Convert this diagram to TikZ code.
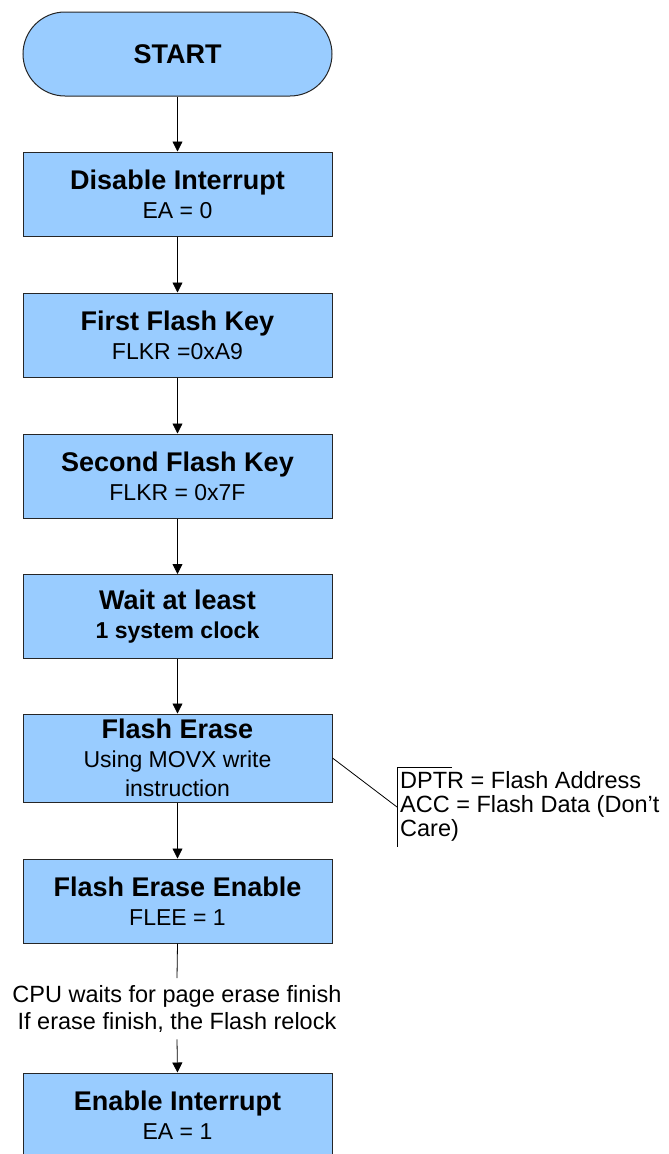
\documentclass[tikz,border=0pt]{standalone}
\usepackage{fontspec}
\setmainfont{Liberation Sans}
\usetikzlibrary{arrows.meta,shapes.misc}
\definecolor{boxblue}{RGB}{153,204,255}
\newcommand{\bt}{\fontsize{27}{29}\selectfont\bfseries}
\begin{document}
\begin{tikzpicture}[x=1pt,y=-1pt,
  box/.style={draw=black!85, line width=1pt, fill=boxblue, minimum width=309pt,
    minimum height=84pt, align=center, inner sep=0pt, font=\fontsize{23}{29}\selectfont},
  term/.style={box, rounded rectangle},
  conn/.style={line width=0.8pt, -{Triangle[width=10pt,length=10pt]}},
  plain/.style={line width=0.8pt},
  note/.style={align=left, inner sep=0pt, font=\fontsize{23.5}{24}\selectfont},
  waittext/.style={align=center, inner xsep=0pt, inner ysep=7pt, font=\fontsize{23.5}{27}\selectfont}
]
\useasboundingbox (0,0) rectangle (669,1154);
\clip (0,0) rectangle (669,1154);

\node[term] (start) at (177.5,54) {\bt START};
\node[box] (b1) at (177.5,194) {{\bt Disable Interrupt}\\EA = 0};
\node[box] (b2) at (177.5,335) {{\bt First Flash Key}\\FLKR =0xA9};
\node[box] (b3) at (177.5,476) {{\bt Second Flash Key}\\FLKR = 0x7F};
\node[box] (b4) at (177.5,616.5) {{\bt Wait at least}\\{\bfseries 1 system clock}};
\node[box, minimum height=88pt] (b5) at (177.5,758) {{\bt Flash Erase}\\Using MOVX write\\instruction};
\node[box] (b6) at (177.5,901) {{\bt Flash Erase Enable}\\FLEE = 1};
\node[box] (b7) at (177.5,1115) {{\bt Enable Interrupt}\\EA = 1};

\node[waittext, anchor=north] (wait) at (177,978) {CPU waits for page erase finish\\If erase finish, the Flash relock};

\node[note, anchor=north west] (note) at (400,771.5) {DPTR = Flash Address\\ACC = Flash Data (Don’t\\Care)};
\coordinate (brtop) at (452,767);
\coordinate (brcorner) at (397,767);
\coordinate (brbot) at (397,847);
\coordinate (brjoin) at (397,807);

\draw[conn] (start.south) -- (b1.north);
\draw[conn] (b1.south) -- (b2.north);
\draw[conn] (b2.south) -- (b3.north);
\draw[conn] (b3.south) -- (b4.north);
\draw[conn] (b4.south) -- (b5.north);
\draw[conn] (b5.south) -- (b6.north);
\draw[plain] (b6.south) -- (wait.north);
\draw[conn] (wait.south) -- (b7.north);

\draw[plain] (brtop) -- (brcorner) -- (brbot);
\draw[plain] (b5.east) -- (brjoin);
\end{tikzpicture}
\end{document}
